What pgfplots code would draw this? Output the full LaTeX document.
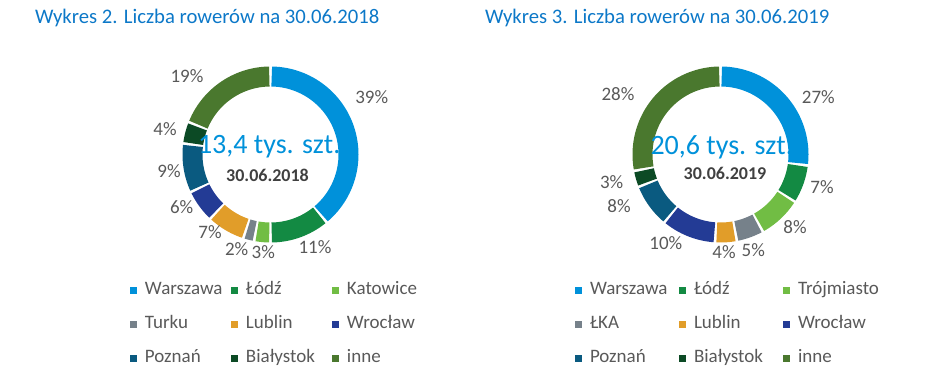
\documentclass[border=0pt]{standalone}
\usepackage{fontspec}
\setmainfont{Carlito}
\usepackage{pgfplots}
\pgfplotsset{compat=1.18}
\usepackage{pgfplotstable}
\usepgfplotslibrary{polar}

\definecolor{cWar}{HTML}{0091DA}
\definecolor{cLod}{HTML}{138A43}
\definecolor{cKat}{HTML}{71BD44}
\definecolor{cTur}{HTML}{76818A}
\definecolor{cLub}{HTML}{E19D29}
\definecolor{cWro}{HTML}{233B95}
\definecolor{cPoz}{HTML}{0A5A80}
\definecolor{cBia}{HTML}{0C4A25}
\definecolor{cInn}{HTML}{4A782E}
\definecolor{cTitle}{HTML}{0C78C8}
\definecolor{cLab}{HTML}{595959}
\definecolor{cDate}{HTML}{404040}

% 2018 shares (%), clockwise from top
\pgfplotstableread{
val col
39 cWar
11 cLod
3  cKat
2  cTur
7  cLub
6  cWro
9  cPoz
4  cBia
19 cInn
}\dataA

% 2019 shares (%), clockwise from top
\pgfplotstableread{
val col
27 cWar
7  cLod
8  cKat
5  cTur
4  cLub
10 cWro
8  cPoz
3  cBia
28 cInn
}\dataB

\newcommand\donut[1]{%
  \pgfplotstablegetrowsof{#1}%
  \pgfmathtruncatemacro\nrows{\pgfplotsretval-1}%
  \def\cum{0}%
  \pgfplotsforeachungrouped \i in {0,...,\nrows}{%
    \pgfplotstablegetelem{\i}{val}\of{#1}\let\segval\pgfplotsretval
    \pgfplotstablegetelem{\i}{col}\of{#1}\let\segcol\pgfplotsretval
    \pgfmathsetmacro\aend{90-3.6*\cum-0.9}%
    \pgfmathsetmacro\cum{\cum+\segval}%
    \pgfmathsetmacro\astart{90-3.6*\cum+0.9}%
    \edef\temp{\noexpand\addplot[color=\segcol, line width=20pt, domain=\astart:\aend, samples=60] {78};}%
    \temp
  }%
}

\pgfplotsset{
  donutstyle/.style={
    hide axis, scale only axis, width=200pt, height=200pt,
    xmin=0, xmax=360, ymin=0, ymax=100, clip=false, anchor=center,
    legend columns=3,
    legend cell align=left,
    legend image code/.code={\fill[##1, draw=none, line width=0pt] (0pt,-3.5pt) rectangle (7pt,3.5pt);},
    legend style={draw=none, fill=none, inner sep=0pt, outer sep=0pt,
      anchor=north west,
      font=\fontsize{19}{21}\selectfont, text=cLab,
      row sep=18pt,
      nodes={inner sep=0pt, text height=12pt, text depth=4pt},
      /tikz/every odd column/.append style={column sep=8pt},
      /tikz/every even column/.append style={column sep=0pt}},
  }
}

\begin{document}
\begin{tikzpicture}
\useasboundingbox (0,0) rectangle (945pt,388pt);

\begin{polaraxis}[donutstyle, at={(270.5pt,233.5pt)},
  legend style={at={(-0.2025,-0.1375)}}]
\donut{\dataA}
\legend{\makebox[86pt][l]{Warszawa},\makebox[86pt][l]{Łódź},\makebox[86pt][l]{Katowice},
\makebox[86pt][l]{Turku},\makebox[86pt][l]{Lublin},\makebox[86pt][l]{Wrocław},
\makebox[86pt][l]{Poznań},\makebox[86pt][l]{Białystok},\makebox[86pt][l]{inne}}
\end{polaraxis}

\begin{polaraxis}[donutstyle, at={(720.5pt,233.5pt)},
  legend style={at={(-0.2275,-0.1375)}}]
\donut{\dataB}
\legend{\makebox[89pt][l]{Warszawa},\makebox[89pt][l]{Łódź},\makebox[89pt][l]{Trójmiasto},
\makebox[89pt][l]{ŁKA},\makebox[89pt][l]{Lublin},\makebox[89pt][l]{Wrocław},
\makebox[89pt][l]{Poznań},\makebox[89pt][l]{Białystok},\makebox[89pt][l]{inne}}
\end{polaraxis}

\begin{scope}[x=1pt, y=-1pt, shift={(0pt,388pt)}]
% titles
\node[anchor=west, inner sep=0pt, text=cTitle, font=\fontsize{20.7}{23}\selectfont] at (35,18) {Wykres 2. Liczba rowerów na 30.06.2018};
\node[anchor=west, inner sep=0pt, text=cTitle, font=\fontsize{20.7}{23}\selectfont] at (485,18) {Wykres 3. Liczba rowerów na 30.06.2019};
% centre texts
\node[anchor=base, inner sep=0pt, text=cWar, font=\fontsize{28}{30}\selectfont] at (269.2,154) {13,4 tys. szt.};
\node[anchor=base, inner sep=0pt, text=cDate, font=\bfseries\fontsize{18}{20}\selectfont] at (267.5,181.7) {30.06.2018};
\node[anchor=base, inner sep=0pt, text=cWar, font=\fontsize{28}{30}\selectfont] at (721.7,154.3) {20,6 tys. szt.};
\node[anchor=base, inner sep=0pt, text=cDate, font=\bfseries\fontsize{18}{20}\selectfont] at (725,180) {30.06.2019};
% percentage labels 2018
\begin{scope}[every node/.style={inner sep=0pt, text=cLab, font=\fontsize{19}{21}\selectfont}]
\node at (371.7,97.3) {39\%};
\node at (315,247.5) {11\%};
\node at (263.3,251.7) {3\%};
\node at (236.7,249) {2\%};
\node at (210,232) {7\%};
\node at (181.7,207) {6\%};
\node at (169,171) {9\%};
\node at (165,129) {4\%};
\node at (187,76) {19\%};
% 2019
\node at (818.3,97.3) {27\%};
\node at (822,187) {7\%};
\node at (795,227.5) {8\%};
\node at (753.3,250) {5\%};
\node at (724,252) {4\%};
\node at (665.8,243) {10\%};
\node at (619,206) {8\%};
\node at (611.7,182) {3\%};
\node at (618,94) {28\%};
\end{scope}
\end{scope}
\end{tikzpicture}
\end{document}
